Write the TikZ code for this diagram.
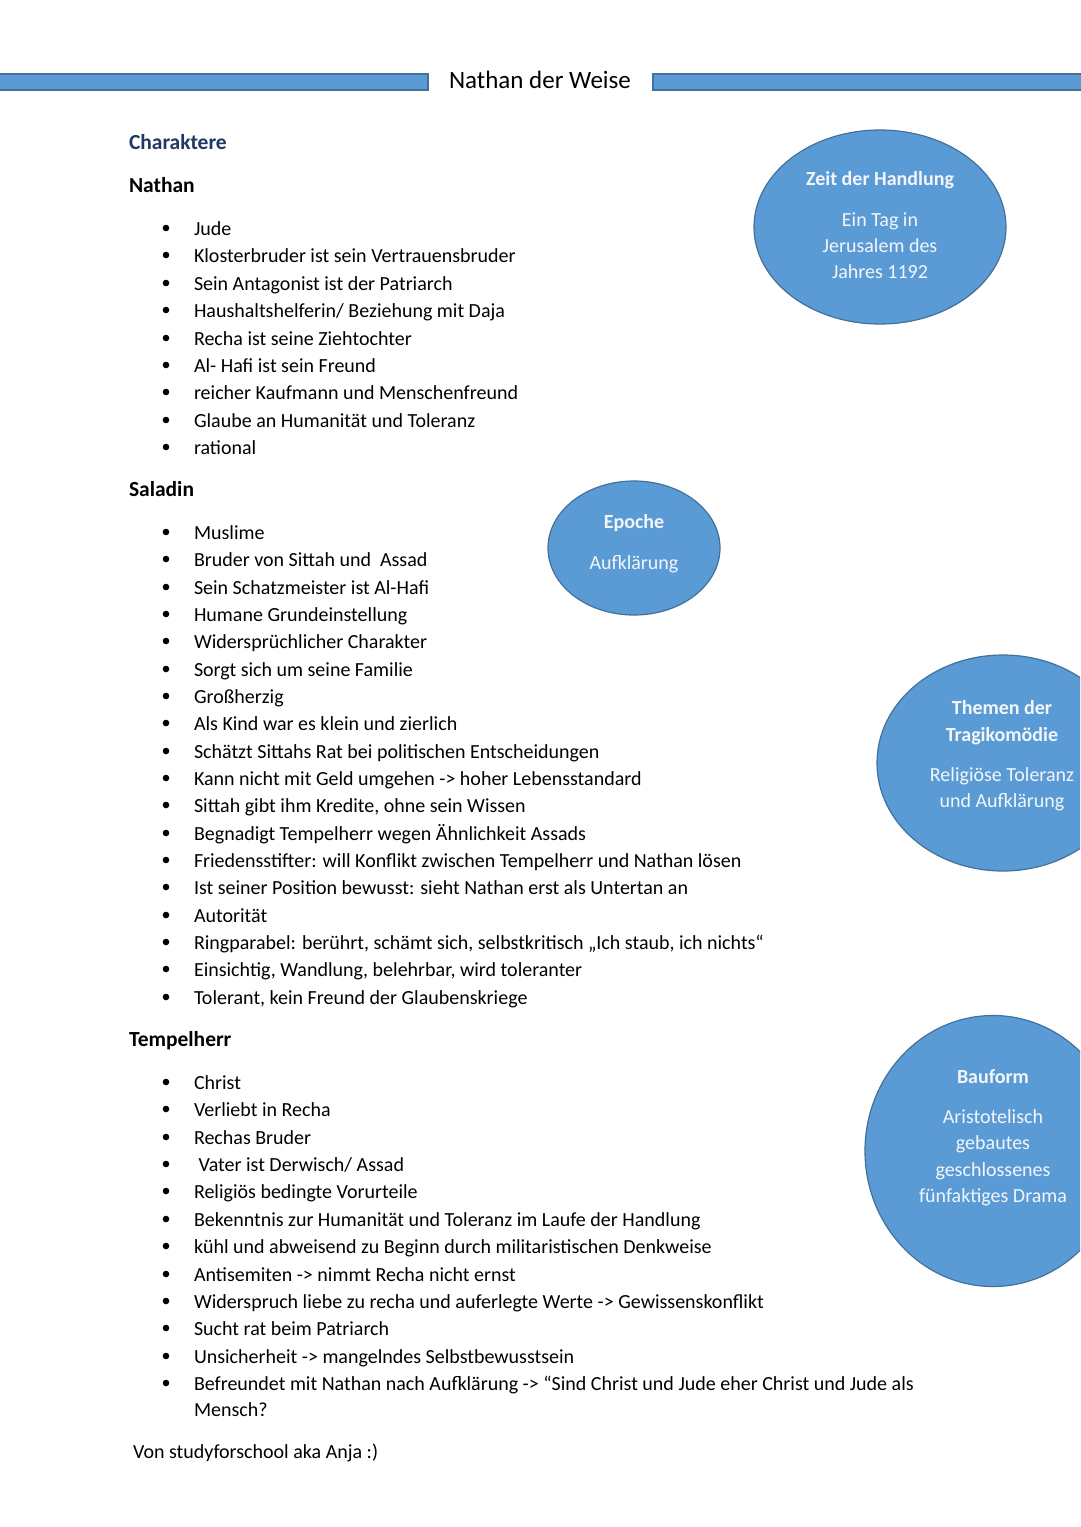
\documentclass[tikz,border=0pt]{standalone}
\usepackage{fontspec}
\setmainfont{Carlito}
\usetikzlibrary{shapes.geometric}
\definecolor{barblue}{HTML}{5B9BD5}
\definecolor{bardark}{HTML}{41719C}
\definecolor{headblue}{HTML}{1F3864}
\definecolor{circtext}{HTML}{F2F6FB}
\begin{document}
\begin{tikzpicture}[x=1pt,y=-1pt,
  every node/.style={inner sep=0pt,outer sep=0pt},
  body/.style={anchor=base west,font=\fontsize{20}{24}\selectfont},
  head/.style={anchor=base west,font=\fontsize{21.5}{26}\selectfont\bfseries},
  bar/.style={fill=barblue,draw=bardark,line width=1.2pt},
  blob/.style={ellipse,fill=barblue,draw=bardark,line width=1.2pt},
  ctitle/.style={anchor=base,text=circtext,font=\fontsize{20}{24}\selectfont\bfseries},
  ctext/.style={anchor=base,text=circtext,font=\fontsize{20}{24}\selectfont},
  dot/.style={circle,fill=black,minimum size=6.6pt}]
\useasboundingbox (0,0) rectangle (1080,1527);
\fill[white] (0,0) rectangle (1080,1527);
% title bars
\draw[bar] (-5,74) rectangle (428,90);
\draw[bar] (653,74) rectangle (1085,90);
\node[anchor=base,font=\fontsize{25}{29}\selectfont] (title) at (540,88) {Nathan der Weise};
% circles
\begin{scope}
\clip (0,0) rectangle (1080,1527);
\node[blob,minimum width=252pt,minimum height=194pt] (zeit) at (880,227) {};
\node[blob,minimum width=172pt,minimum height=134pt] (epoche) at (634,548) {};
\node[blob,minimum width=252pt,minimum height=216pt] (themen) at (1003,763) {};
\node[blob,minimum width=256pt,minimum height=271pt] (bauform) at (993,1151) {};
\end{scope}
\node[ctitle] (zeitT) at (880,185) {Zeit der Handlung};
\node[ctext] (zeit1) at (880,226) {Ein Tag in};
\node[ctext] (zeit2) at (880,252) {Jerusalem des};
\node[ctext] (zeit3) at (880,278) {Jahres 1192};
\node[ctitle] (epT) at (634,528) {Epoche};
\node[ctext] (ep1) at (634,569) {Aufklärung};
\node[ctitle] (thT1) at (1002,714) {Themen der};
\node[ctitle] (thT2) at (1002,741) {Tragikomödie};
\node[ctext] (th1) at (1002,781) {Religiöse Toleranz};
\node[ctext] (th2) at (1002,807) {und Aufklärung};
\node[ctitle] (bfT) at (993,1083) {Bauform};
\node[ctext] (bf1) at (993,1123) {Aristotelisch};
\node[ctext] (bf2) at (993,1149) {gebautes};
\node[ctext] (bf3) at (993,1176) {geschlossenes};
\node[ctext] (bf4) at (993,1202) {fünfaktiges Drama};
% headings
\node[head,text=headblue] (charaktere) at (129,149) {Charaktere};
\node[head] (hnathan) at (129,192) {Nathan};
\node[head] (hsaladin) at (129,496) {Saladin};
\node[head] (htempel) at (129,1046) {Tempelherr};
% Nathan items
\foreach \y/\t [count=\i] in {
 228/Jude,
 255/Klosterbruder ist sein Vertrauensbruder,
 283/Sein Antagonist ist der Patriarch,
 310/{Haushaltshelferin/ Beziehung mit Daja},
 338/Recha ist seine Ziehtochter,
 365/Al- Hafi ist sein Freund,
 392/reicher Kaufmann und Menschenfreund,
 420/Glaube an Humanität und Toleranz,
 447/rational}{
 \node[dot] (nb\i) at (166,\y) {};
 \node[body] (ni\i) at (194,\y+7) {\t};
}
% Saladin items
\foreach \y/\t [count=\i] in {
 532/Muslime,
 559/Bruder von Sittah und\ \ Assad,
 587/Sein Schatzmeister ist Al-Hafi,
 614/Humane Grundeinstellung,
 641/Widersprüchlicher Charakter,
 669/Sorgt sich um seine Familie,
 696/Großherzig,
 723/Als Kind war es klein und zierlich,
 751/Schätzt Sittahs Rat bei politischen Entscheidungen,
 778/Kann nicht mit Geld umgehen -> hoher Lebensstandard,
 805/{Sittah gibt ihm Kredite, ohne sein Wissen},
 833/Begnadigt Tempelherr wegen Ähnlichkeit Assads,
 860/Friedensstifter: will Konflikt zwischen Tempelherr und Nathan lösen,
 887/Ist seiner Position bewusst: sieht Nathan erst als Untertan an,
 915/Autorität,
 942/{Ringparabel: berührt, schämt sich, selbstkritisch „Ich staub, ich nichts“},
 969/{Einsichtig, Wandlung, belehrbar, wird toleranter},
 997/{Tolerant, kein Freund der Glaubenskriege}}{
 \node[dot] (sb\i) at (166,\y) {};
 \node[body] (si\i) at (194,\y+7) {\t};
}
% Tempelherr items
\foreach \y/\t [count=\i] in {
 1082/Christ,
 1109/Verliebt in Recha,
 1137/Rechas Bruder,
 1164/{\ Vater ist Derwisch/ Assad},
 1191/Religiös bedingte Vorurteile,
 1219/Bekenntnis zur Humanität und Toleranz im Laufe der Handlung,
 1246/kühl und abweisend zu Beginn durch militaristischen Denkweise,
 1274/Antisemiten -> nimmt Recha nicht ernst,
 1301/Widerspruch liebe zu recha und auferlegte Werte -> Gewissenskonflikt,
 1328/Sucht rat beim Patriarch,
 1356/Unsicherheit -> mangelndes Selbstbewusstsein,
 1383/Befreundet mit Nathan nach Aufklärung -> “Sind Christ und Jude eher Christ und Jude als}{
 \node[dot] (tb\i) at (166,\y) {};
 \node[body] (ti\i) at (194,\y+7) {\t};
}
\node[body] (ti12b) at (194,1416) {Mensch?};
\node[body] (footer) at (133,1458) {Von studyforschool aka Anja :)};
\end{tikzpicture}
\end{document}
